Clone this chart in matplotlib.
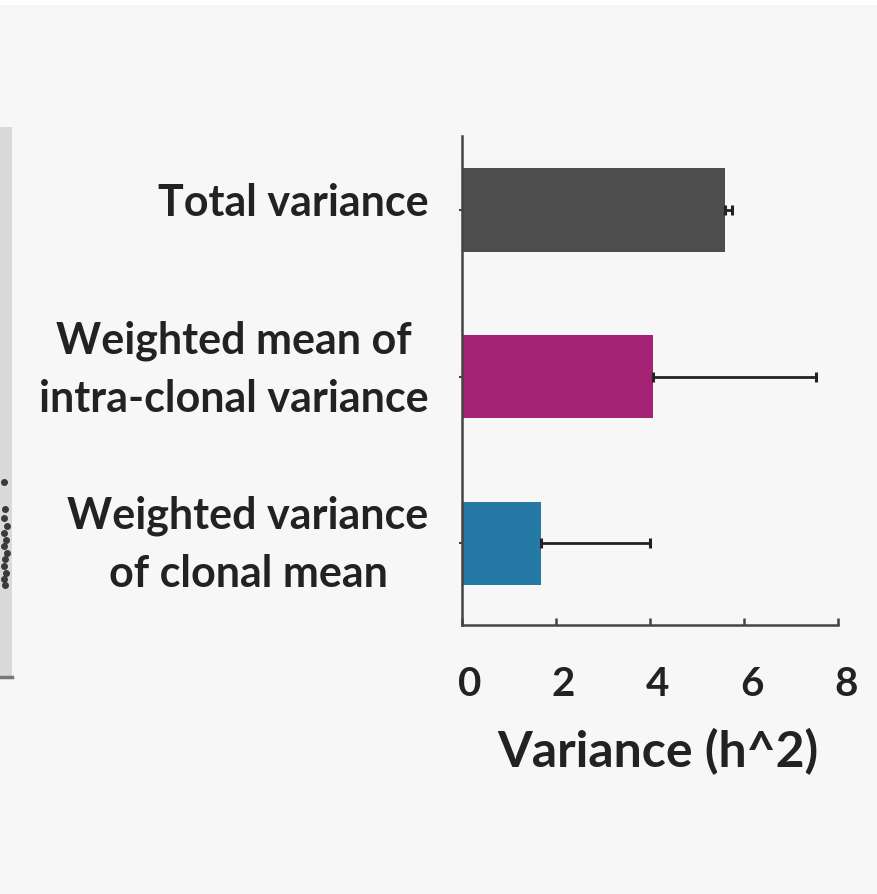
import matplotlib.pyplot as plt
from matplotlib.patches import Rectangle
from matplotlib.transforms import ScaledTranslation

plt.rcParams['font.family'] = ['Lato', 'DejaVu Sans']

# bar data (top to bottom in the chart)
categories = ["Total variance",
              "Weighted mean of\nintra-clonal variance",
              "Weighted variance\nof clonal mean"]
values = [5.6, 4.06, 1.68]
errors = [0.14, 3.47, 2.32]
colors = ["#4d4d4d", "#a32273", "#247aa4"]
xticks = [0, 2, 4, 6, 8]

# remnant of the neighbouring panel on the left edge (clipped)
side_y = [0.355, 0.305, 0.29, 0.275, 0.262, 0.25, 0.238, 0.226, 0.214,
          0.202, 0.19, 0.178, 0.168]
side_x = [0.35, 0.45, 0.3, 0.55, 0.35, 0.5, 0.3, 0.55, 0.4, 0.3, 0.5, 0.35, 0.45]

bg = "#f7f7f7"
text_c = "#222222"
axis_c = "#444444"

fig = plt.figure(figsize=(8.77, 8.95), dpi=100)
fig.patch.set_facecolor("white")
fig.add_artist(Rectangle((0, 0), 1, 1 - 6 / 895, transform=fig.transFigure,
                         facecolor=bg, edgecolor="none", zorder=-10))

# left cut-off panel
side = fig.add_axes([0.0, 1 - 678 / 895, 12 / 877, (678 - 128) / 895])
side.set_facecolor("#dadada")
side.scatter(side_x, side_y, s=16, color="#3a3a3a", clip_on=True)
side.set_xlim(0, 1)
side.set_ylim(0, 1)
side.set_xticks([])
side.set_yticks([])
for s in ["top", "left", "right"]:
    side.spines[s].set_visible(False)
side.spines["bottom"].set_color("#777777")
side.spines["bottom"].set_linewidth(2.5)

ax = fig.add_axes([462 / 877, 269 / 895, 376 / 877, 489 / 895])
ax.set_facecolor(bg)

pos = [2, 1, 0]
ax.barh(pos, values, height=0.5, color=colors, zorder=2)
ax.errorbar(values, pos, xerr=[[0] * 3, errors], fmt="none", ecolor=text_c,
            elinewidth=2.0, capsize=3.6, capthick=2.2, zorder=3)

ax.set_xlim(0, 8)
ax.set_ylim(-0.49, 2.445)
ax.set_xticks(xticks)
ax.set_xticklabels([str(t) for t in xticks], fontsize=29, fontweight="bold",
                   color=text_c)
ax.tick_params(axis="x", direction="in", length=5, width=1.8, color=axis_c, pad=29)
shift = ScaledTranslation(5.5 / 72, 0, fig.dpi_scale_trans)
for lab in ax.get_xticklabels():
    lab.set_transform(lab.get_transform() + shift)

ax.set_yticks(pos)
ax.set_yticklabels(categories, fontsize=31, fontweight="bold", color=text_c,
                   multialignment="center", linespacing=1.55)
ax.tick_params(axis="y", length=2, width=1.5, color=axis_c, pad=22)
# labels sit a little above the bar centres in the original
for lab, up in zip(ax.get_yticklabels(), [8.5, 15, 8.5]):
    lab.set_transform(lab.get_transform()
                      + ScaledTranslation(0, up / 72, fig.dpi_scale_trans))

ax.set_xlabel("Variance (h^2)", fontsize=36, fontweight="bold", color=text_c)
ax.xaxis.set_label_coords(0.52, -0.208)

for s in ["top", "right"]:
    ax.spines[s].set_visible(False)
for s in ["left", "bottom"]:
    ax.spines[s].set_color(axis_c)
    ax.spines[s].set_linewidth(1.8)

fig.savefig("out.png", dpi=100, facecolor=fig.get_facecolor())
